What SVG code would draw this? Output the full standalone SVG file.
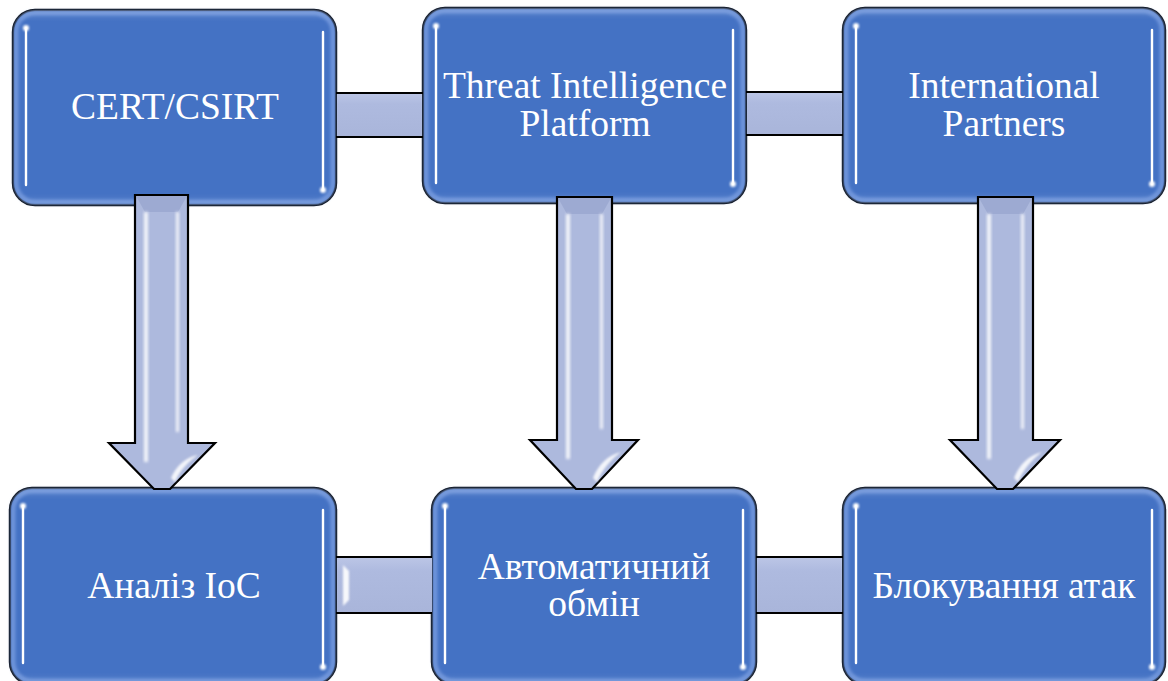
<svg xmlns="http://www.w3.org/2000/svg" width="1168" height="681" viewBox="0 0 1168 681">
  <defs>
    <style>
      .box { fill: #4472c4; stroke: #000; stroke-width: 2.4; }
      .rim { fill: none; stroke: #6e94da; stroke-width: 5; filter: url(#soft); }
      .glow { stroke: #b3cff6; stroke-width: 8; stroke-linecap: round; opacity: 0.9; filter: url(#soft); }
      .hl { stroke: #ffffff; stroke-width: 2.4; stroke-linecap: round; }
      .dot { fill: #ffffff; filter: url(#tiny); }
      .label { font-family: "Liberation Serif", "Times New Roman", serif; font-size: 37.5px; fill: #ffffff; text-anchor: middle; }
      .bar { fill: url(#barFill); }
      .barEdge { stroke: #000; stroke-width: 2.2; }
      .arrow { fill: #adb9dd; stroke: #000; stroke-width: 2.2; stroke-linejoin: miter; }
      .streak { fill: #ffffff; opacity: 0.85; filter: url(#soft); }
      .bevel { fill: #8f9ec9; opacity: 0.55; }
    </style>
    <filter id="soft" x="-50%" y="-10%" width="200%" height="120%">
      <feGaussianBlur stdDeviation="1.6"/>
    </filter>
    <filter id="tiny" x="-100%" y="-100%" width="300%" height="300%">
      <feGaussianBlur stdDeviation="0.8"/>
    </filter>
    <linearGradient id="barFill" x1="0" y1="0" x2="0" y2="1">
      <stop offset="0" stop-color="#bcc6e6"/>
      <stop offset="0.25" stop-color="#aebadf"/>
      <stop offset="1" stop-color="#a9b5da"/>
    </linearGradient>
    <linearGradient id="boxShade" x1="0" y1="0" x2="0" y2="1">
      <stop offset="0" stop-color="#ffffff" stop-opacity="0.12"/>
      <stop offset="0.06" stop-color="#ffffff" stop-opacity="0"/>
      <stop offset="0.94" stop-color="#ffffff" stop-opacity="0"/>
      <stop offset="1" stop-color="#ffffff" stop-opacity="0.08"/>
    </linearGradient>
  </defs>

  <rect width="1168" height="681" fill="#ffffff"/>

  <!-- top row -->
  <g id="node-cert">
    <rect class="box" x="13" y="10" width="323" height="195" rx="22"/>
    <rect class="rim" x="16" y="13" width="317" height="189" rx="19"/>
    <rect x="13" y="10" width="323" height="195" rx="22" fill="url(#boxShade)"/>
    <line class="glow" x1="26" y1="28" x2="26" y2="185"/>
    <line class="hl" x1="26" y1="28" x2="26" y2="185"/>
    <circle class="dot" cx="26" cy="28" r="3"/>
    <line class="glow" x1="323" y1="32" x2="323" y2="190"/>
    <line class="hl" x1="323" y1="32" x2="323" y2="190"/>
    <circle class="dot" cx="323" cy="190" r="3"/>
    <text class="label" x="175" y="119">CERT/CSIRT</text>
  </g>

  <g id="node-tip">
    <rect class="box" x="423" y="8" width="323" height="195" rx="22"/>
    <rect class="rim" x="426" y="11" width="317" height="189" rx="19"/>
    <rect x="423" y="8" width="323" height="195" rx="22" fill="url(#boxShade)"/>
    <line class="glow" x1="436" y1="26" x2="436" y2="183"/>
    <line class="hl" x1="436" y1="26" x2="436" y2="183"/>
    <circle class="dot" cx="436" cy="26" r="3"/>
    <line class="glow" x1="733" y1="30" x2="733" y2="184"/>
    <line class="hl" x1="733" y1="30" x2="733" y2="184"/>
    <circle class="dot" cx="733" cy="184" r="3"/>
    <text class="label" x="585" y="98">Threat Intelligence</text>
    <text class="label" x="585" y="136">Platform</text>
  </g>

  <g id="node-partners">
    <rect class="box" x="843" y="8" width="322" height="195" rx="22"/>
    <rect class="rim" x="846" y="11" width="316" height="189" rx="19"/>
    <rect x="843" y="8" width="322" height="195" rx="22" fill="url(#boxShade)"/>
    <line class="glow" x1="856" y1="26" x2="856" y2="183"/>
    <line class="hl" x1="856" y1="26" x2="856" y2="183"/>
    <circle class="dot" cx="856" cy="26" r="3"/>
    <line class="glow" x1="1152" y1="30" x2="1152" y2="184"/>
    <line class="hl" x1="1152" y1="30" x2="1152" y2="184"/>
    <circle class="dot" cx="1152" cy="184" r="3"/>
    <text class="label" x="1004" y="98">International</text>
    <text class="label" x="1004" y="136">Partners</text>
  </g>

  <!-- bottom row -->
  <g id="node-ioc">
    <rect class="box" x="10" y="488" width="326" height="196" rx="22"/>
    <rect class="rim" x="13" y="491" width="320" height="190" rx="19"/>
    <rect x="10" y="488" width="326" height="196" rx="22" fill="url(#boxShade)"/>
    <line class="glow" x1="23" y1="506" x2="23" y2="663"/>
    <line class="hl" x1="23" y1="506" x2="23" y2="663"/>
    <circle class="dot" cx="23" cy="506" r="3"/>
    <line class="glow" x1="323" y1="510" x2="323" y2="667"/>
    <line class="hl" x1="323" y1="510" x2="323" y2="667"/>
    <circle class="dot" cx="323" cy="667" r="3"/>
    <text class="label" x="174" y="598">Аналіз IoC</text>
  </g>

  <g id="node-exchange">
    <rect class="box" x="432" y="488" width="324" height="196" rx="22"/>
    <rect class="rim" x="435" y="491" width="318" height="190" rx="19"/>
    <rect x="432" y="488" width="324" height="196" rx="22" fill="url(#boxShade)"/>
    <line class="glow" x1="445" y1="506" x2="445" y2="663"/>
    <line class="hl" x1="445" y1="506" x2="445" y2="663"/>
    <circle class="dot" cx="445" cy="506" r="3"/>
    <line class="glow" x1="743" y1="510" x2="743" y2="667"/>
    <line class="hl" x1="743" y1="510" x2="743" y2="667"/>
    <circle class="dot" cx="743" cy="667" r="3"/>
    <text class="label" x="594" y="579">Автоматичний</text>
    <text class="label" x="594" y="616">обмін</text>
  </g>

  <g id="node-block">
    <rect class="box" x="843" y="488" width="322" height="196" rx="22"/>
    <rect class="rim" x="846" y="491" width="316" height="190" rx="19"/>
    <rect x="843" y="488" width="322" height="196" rx="22" fill="url(#boxShade)"/>
    <line class="glow" x1="856" y1="506" x2="856" y2="663"/>
    <line class="hl" x1="856" y1="506" x2="856" y2="663"/>
    <circle class="dot" cx="856" cy="506" r="3"/>
    <line class="glow" x1="1152" y1="510" x2="1152" y2="667"/>
    <line class="hl" x1="1152" y1="510" x2="1152" y2="667"/>
    <circle class="dot" cx="1152" cy="667" r="3"/>
    <text class="label" x="1004" y="598">Блокування атак</text>
  </g>

  <g id="connectors">
    <!-- horizontal links between neighbouring boxes -->
    <g id="link-cert-tip">
      <rect class="bar" x="337" y="93" width="85" height="44"/>
      <line class="barEdge" x1="336" y1="93" x2="423" y2="93"/>
      <line class="barEdge" x1="336" y1="137" x2="423" y2="137"/>
    </g>
    <g id="link-tip-partners">
      <rect class="bar" x="747" y="92" width="95" height="43"/>
      <line class="barEdge" x1="746" y1="92" x2="843" y2="92"/>
      <line class="barEdge" x1="746" y1="135" x2="843" y2="135"/>
    </g>
    <g id="link-ioc-exchange">
      <rect class="bar" x="337" y="557" width="95" height="56"/>
      <path d="M343,565 L349,571 V600 L343,606 Z" fill="#ffffff" opacity="0.9" filter="url(#tiny)"/>
      <line class="barEdge" x1="336" y1="557" x2="432" y2="557"/>
      <line class="barEdge" x1="336" y1="613" x2="432" y2="613"/>
    </g>
    <g id="link-exchange-block">
      <rect class="bar" x="757" y="557" width="85" height="56"/>
      <line class="barEdge" x1="756" y1="557" x2="843" y2="557"/>
      <line class="barEdge" x1="756" y1="613" x2="843" y2="613"/>
    </g>

    <!-- downward arrows -->
    <g id="arrow-cert-ioc">
      <path class="arrow" d="M135,195 H188 V443 H215 L170,489 H154 L109,443 H135 Z"/>
      <path class="bevel" d="M136,196 H187 L178,212 H145 Z"/>
      <rect class="streak" x="144" y="212" width="4" height="250"/>
      <rect class="streak" x="176" y="212" width="3" height="220"/>
      <path d="M171,478 C176,466 186,457 198,455 C188,462 180,470 175,482 Z" fill="#ffffff" opacity="0.85" filter="url(#tiny)"/>
    </g>
    <g id="arrow-tip-exchange">
      <path class="arrow" d="M557,197 H612 V440 H638 L592,489 H576 L530,440 H557 Z"/>
      <path class="bevel" d="M558,198 H611 L602,214 H567 Z"/>
      <rect class="streak" x="566" y="214" width="4" height="245"/>
      <rect class="streak" x="600" y="214" width="3" height="215"/>
      <path d="M593,478 C598,465 608,455 621,452 C611,460 603,468 597,482 Z" fill="#ffffff" opacity="0.85" filter="url(#tiny)"/>
    </g>
    <g id="arrow-partners-block">
      <path class="arrow" d="M978,197 H1033 V440 H1060 L1013,489 H997 L950,440 H978 Z"/>
      <path class="bevel" d="M979,198 H1032 L1023,214 H988 Z"/>
      <rect class="streak" x="987" y="214" width="4" height="245"/>
      <rect class="streak" x="1021" y="214" width="3" height="215"/>
      <path d="M1014,478 C1019,465 1029,455 1042,452 C1032,460 1024,468 1018,482 Z" fill="#ffffff" opacity="0.85" filter="url(#tiny)"/>
    </g>
  </g>
</svg>
